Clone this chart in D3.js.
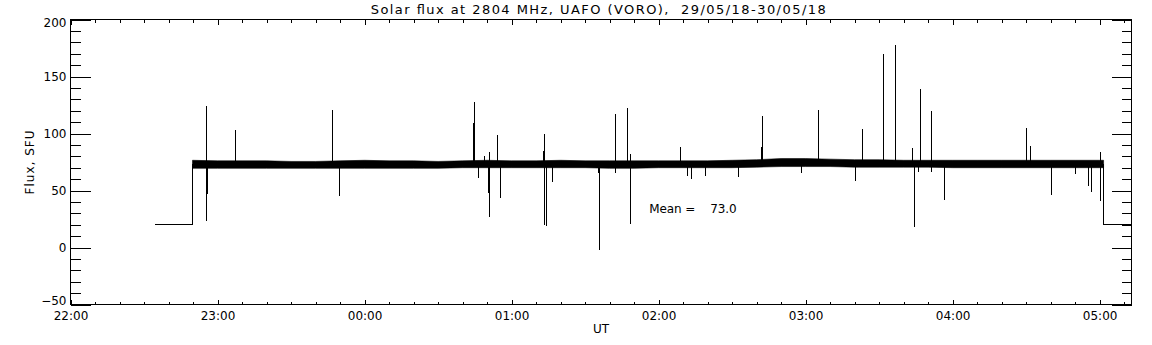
<!DOCTYPE html>
<html>
<head>
<meta charset="utf-8">
<script src="https://cdn.jsdelivr.net/npm/d3@7"></script>
<style>
  body { margin: 0; background: #fff; }
  text { font-family: 'DejaVu Sans', sans-serif; fill: #000; }
</style>
</head>
<body>
<div id="chart"></div>
<script>
// time axis is in minutes after 22:00 UT, 29/05/18
const xTickMinutes = [0, 60, 120, 180, 240, 300, 360, 420];
const xTickLabels = ['22:00', '23:00', '00:00', '01:00', '02:00', '03:00', '04:00', '05:00'];
const yTickValues = [-50, 0, 50, 100, 150, 200];

// receiver off level before / after the observation
const offLevel = 20;
const offBefore = [34.3, 49.8];
const offAfter = [421.6, 433];

// quiet sun band (min / max of the noisy trace per 10 min)
const bandTimes = [49.8, 60, 70, 80, 90, 100, 110, 120, 130, 140, 150, 160, 170, 180, 190, 200, 210, 220, 230,
  240, 250, 260, 270, 280, 290, 300, 310, 320, 330, 340, 350, 360, 370, 380, 390, 400, 410, 420];
const bandLow = [69.5, 69.5, 69.5, 69.5, 69.5, 69.5, 69.5, 69.5, 69.5, 69.5, 69.5, 70, 70, 70, 70, 70, 70, 69.5, 69.5,
  70, 70, 70, 70, 70.5, 71, 71, 71, 70.5, 70.5, 70.5, 70.5, 70, 70, 70, 70, 70, 70, 70];
const bandHigh = [76.5, 76, 76, 76, 75.5, 75.5, 76, 76.5, 76, 76, 75.5, 76, 76.5, 76, 76, 76.5, 76, 76, 76,
  76, 76, 76, 76.5, 77, 78, 78, 77.5, 77, 77, 76.5, 76.5, 76.5, 76.5, 76.5, 76.5, 76.5, 76.5, 76.5];

// bursts and dropouts
const spikeTimes = [55.5, 56.0, 67.3, 107.1, 109.8, 164.3, 164.7, 166.5, 169.0, 170.7, 171.0, 174.3, 175.5,
  193.1, 193.5, 194.4, 196.7, 215.3, 215.9, 222.5, 227.4, 228.5, 249.1, 251.8, 253.5, 259.2, 272.7,
  282.2, 282.4, 298.5, 305.3, 320.4, 323.3, 331.8, 336.7, 343.7, 344.4, 346.1, 346.9, 351.4, 356.8,
  390.2, 391.8, 400.5, 410.2, 415.5, 416.7, 420.4];
const spikeLow = [23, 47, 73, 73, 45, 73, 73, 61, 73, 48, 27, 73, 43,
  73, 20, 19, 57.5, 65, -2, 65, 73, 21, 73, 63, 60, 63, 62,
  73, 73, 65.5, 73, 58, 73, 73, 73, 73, 18, 66, 73, 66, 42,
  73, 73, 46, 64.5, 54, 48.5, 41];
const spikeHigh = [124, 73, 103, 121, 73, 109, 128, 73, 80, 73, 84, 98.5, 73,
  84.5, 99.5, 73, 73, 73, 73, 117, 122, 82, 88, 73, 73, 73, 73,
  88, 115, 73, 121, 73, 104, 170, 178, 87, 73, 73, 139, 120, 73,
  104.5, 89, 73, 73, 73, 73, 83.5];

const meanFlux = 73.0;
const meanLabelAt = [236.4, 29.6];

const W = 1152, H = 345;
const plot = { left: 70, right: 1131, top: 19, bottom: 304 };

const svg = d3.select('#chart')
  .append('svg')
  .attr('width', W)
  .attr('height', H)
  .style('display', 'block')
  .style('background', '#fff');

const g = svg.append('g')
  .attr('transform', 'translate(0.5,0.5)');

const x = d3.scaleLinear().domain([0, 433]).range([plot.left, plot.right]);
const y = d3.scaleLinear().domain([-50, 200]).range([plot.bottom, plot.top]);

///////////////////////////// axes /////////////////////////////

const fontSize = 12;

function styleAxis(sel) {
  sel.select('.domain').remove();
  sel.attr('font-family', "'DejaVu Sans', sans-serif").attr('font-size', fontSize);
  sel.selectAll('line').attr('stroke', '#000').attr('shape-rendering', 'crispEdges');
}

// y major / minor, left
g.append('g')
  .attr('transform', 'translate(' + plot.left + ',0)')
  .call(d3.axisLeft(y).tickValues(d3.range(-50, 201, 10)).tickSize(-10).tickFormat(''))
  .call(styleAxis);

const yAxisLeft = g.append('g')
  .attr('transform', 'translate(' + plot.left + ',0)')
  .call(d3.axisLeft(y).tickValues(yTickValues).tickSize(-20).tickPadding(4))
  .call(styleAxis);

// keep end labels inside the frame
yAxisLeft.selectAll('.tick text')
  .attr('dy', null)
  .attr('y', function (d) {
    const c = Math.max(plot.top + 3, Math.min(plot.bottom - 4.5, y(d)));
    return c - y(d) + 4.3;
  });

// y right
g.append('g')
  .attr('transform', 'translate(' + plot.right + ',0)')
  .call(d3.axisRight(y).tickValues(d3.range(-50, 201, 10)).tickSize(-10).tickFormat(''))
  .call(styleAxis);
g.append('g')
  .attr('transform', 'translate(' + plot.right + ',0)')
  .call(d3.axisRight(y).tickValues(yTickValues).tickSize(-20).tickFormat(''))
  .call(styleAxis);

// x bottom
g.append('g')
  .attr('transform', 'translate(0,' + plot.bottom + ')')
  .call(d3.axisBottom(x).tickValues(d3.range(0, 434, 10)).tickSize(-3).tickFormat(''))
  .call(styleAxis);
g.append('g')
  .attr('transform', 'translate(0,' + plot.bottom + ')')
  .call(d3.axisBottom(x).tickValues(xTickMinutes).tickSize(-5).tickPadding(7)
    .tickFormat(function (d, i) { return xTickLabels[i]; }))
  .call(styleAxis);

// x top
g.append('g')
  .attr('transform', 'translate(0,' + plot.top + ')')
  .call(d3.axisTop(x).tickValues(d3.range(0, 434, 10)).tickSize(-3).tickFormat(''))
  .call(styleAxis);
g.append('g')
  .attr('transform', 'translate(0,' + plot.top + ')')
  .call(d3.axisTop(x).tickValues(xTickMinutes).tickSize(-5).tickFormat(''))
  .call(styleAxis);

// frame
g.append('rect')
  .attr('x', plot.left)
  .attr('y', plot.top)
  .attr('width', plot.right - plot.left)
  .attr('height', plot.bottom - plot.top)
  .attr('fill', 'none')
  .attr('stroke', '#000')
  .attr('shape-rendering', 'crispEdges');

///////////////////////////// data /////////////////////////////

const band = bandTimes.map(function (t, i) {
  return { t: t, lo: bandLow[i], hi: bandHigh[i] };
});
band.push({ t: offAfter[0], lo: bandLow[bandLow.length - 1], hi: bandHigh[bandHigh.length - 1] });

g.append('path')
  .datum(band)
  .attr('fill', '#000')
  .attr('stroke', '#000')
  .attr('stroke-width', 0.6)
  .attr('d', d3.area()
    .x(function (d) { return x(d.t); })
    .y0(function (d) { return y(d.lo); })
    .y1(function (d) { return y(d.hi); }));

const line = d3.line()
  .x(function (d) { return x(d[0]); })
  .y(function (d) { return y(d[1]); });

g.append('path')
  .datum([[offBefore[0], offLevel], [offBefore[1], offLevel], [offBefore[1], meanFlux]])
  .attr('fill', 'none')
  .attr('stroke', '#000')
  .attr('shape-rendering', 'crispEdges')
  .attr('d', line);

g.append('path')
  .datum([[offAfter[0], meanFlux], [offAfter[0], offLevel], [offAfter[1], offLevel]])
  .attr('fill', 'none')
  .attr('stroke', '#000')
  .attr('shape-rendering', 'crispEdges')
  .attr('d', line);

g.selectAll('.spike')
  .data(spikeTimes)
  .enter().append('line')
  .attr('class', 'spike')
  .attr('x1', function (d) { return x(d); })
  .attr('x2', function (d) { return x(d); })
  .attr('y1', function (d, i) { return y(spikeLow[i]); })
  .attr('y2', function (d, i) { return y(spikeHigh[i]); })
  .attr('stroke', '#000')
  .attr('shape-rendering', 'crispEdges');

///////////////////////////// labels /////////////////////////////

svg.append('text')
  .attr('x', 370.7)
  .attr('y', 14)
  .attr('font-size', 13)
  .attr('textLength', 455)
  .attr('lengthAdjust', 'spacing')
  .style('white-space', 'pre')
  .text('Solar flux at 2804 MHz, UAFO (VORO),  29/05/18-30/05/18');

svg.append('text')
  .attr('x', (plot.left + plot.right) / 2 + 0.5)
  .attr('y', 333)
  .attr('font-size', fontSize)
  .attr('text-anchor', 'middle')
  .text('UT');

svg.append('text')
  .attr('transform', 'translate(34,' + ((plot.top + plot.bottom) / 2 + 0.5) + ') rotate(-90)')
  .attr('font-size', fontSize)
  .attr('text-anchor', 'middle')
  .attr('letter-spacing', 1)
  .text('Flux, SFU');

svg.append('text')
  .attr('x', x(meanLabelAt[0]))
  .attr('y', y(meanLabelAt[1]))
  .attr('font-size', fontSize)
  .attr('textLength', 87.4)
  .attr('lengthAdjust', 'spacing')
  .style('white-space', 'pre')
  .text('Mean =    ' + meanFlux.toFixed(1));
</script>
</body>
</html>
